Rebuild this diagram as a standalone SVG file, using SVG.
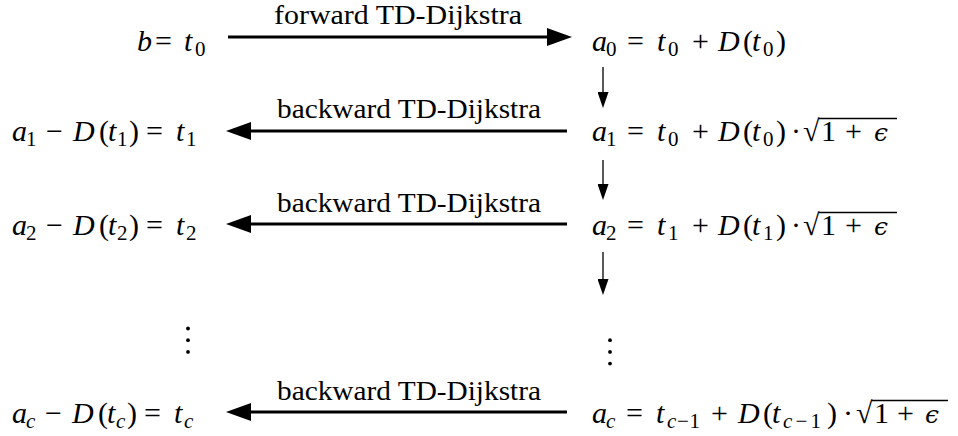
<svg xmlns="http://www.w3.org/2000/svg" width="958" height="436" viewBox="0 0 958 436">
<style>
.m{font-family:"Liberation Serif",serif;font-size:30px;fill:#000}
.i{font-style:italic}
.s{font-size:21px}
.e{font-family:"DejaVu Serif","Liberation Serif",serif;font-style:italic;font-size:25px}
.lbl{font-family:"Liberation Serif",serif;font-size:26.5px;fill:#000}
.big{stroke:#000;stroke-width:2.8;fill:none}
.small{stroke:#000;stroke-width:1.3;fill:none}
.vin{stroke:#000;stroke-width:1.3}
</style>
<defs>
<marker id="hb" markerUnits="userSpaceOnUse" markerWidth="25" markerHeight="19" viewBox="0 0 25 19" refX="8" refY="9.5" orient="auto">
<path d="M0,0.5 L25,9.5 L0,18.5 Z" fill="#000"/>
</marker>
<marker id="hs" markerUnits="userSpaceOnUse" markerWidth="16" markerHeight="11" viewBox="0 0 16 11" refX="4" refY="5.5" orient="auto">
<path d="M0,0 L16,5.5 L0,11 Z" fill="#000"/>
</marker>
</defs>
<g id="connectors">
<line class="big" x1="228" y1="37" x2="555" y2="37" marker-end="url(#hb)"/>
<line class="big" x1="567" y1="131" x2="243" y2="131" marker-end="url(#hb)"/>
<line class="big" x1="567" y1="224" x2="243" y2="224" marker-end="url(#hb)"/>
<line class="big" x1="567" y1="412" x2="243" y2="412" marker-end="url(#hb)"/>
<line class="small" x1="603" y1="67" x2="603" y2="96" marker-end="url(#hs)"/>
<line class="small" x1="603" y1="160" x2="603" y2="188" marker-end="url(#hs)"/>
<line class="small" x1="603" y1="252" x2="603" y2="283" marker-end="url(#hs)"/>
<text class="lbl" x="398" y="24" text-anchor="middle" textLength="248" lengthAdjust="spacingAndGlyphs">forward TD-Dijkstra</text>
<text class="lbl" x="409" y="118" text-anchor="middle" textLength="264" lengthAdjust="spacingAndGlyphs">backward TD-Dijkstra</text>
<text class="lbl" x="409" y="212" text-anchor="middle" textLength="264" lengthAdjust="spacingAndGlyphs">backward TD-Dijkstra</text>
<text class="lbl" x="409" y="400" text-anchor="middle" textLength="264" lengthAdjust="spacingAndGlyphs">backward TD-Dijkstra</text>
</g>
<g id="n-b">
<text class="m"><tspan class="i" x="137" y="51">b</tspan><tspan x="155" y="51">=</tspan><tspan class="i" x="184" y="51">t</tspan><tspan class="s" x="195" y="55.5">0</tspan></text>
</g>
<g id="n-a0">
<text class="m"><tspan class="i" x="592" y="51">a</tspan><tspan class="s" x="606" y="55.5">0</tspan><tspan x="627" y="51">=</tspan><tspan class="i" x="657" y="51">t</tspan><tspan class="s" x="668" y="55.5">0</tspan><tspan x="692" y="51">+</tspan><tspan class="i" x="718" y="51">D</tspan><tspan x="743" y="51">(</tspan><tspan class="i" x="752" y="51">t</tspan><tspan class="s" x="763" y="55.5">0</tspan><tspan x="776" y="51">)</tspan></text>
</g>
<g id="n-t1">
<text class="m"><tspan class="i" x="12" y="141">a</tspan><tspan class="s" x="26" y="145.5">1</tspan><tspan x="46" y="141">−</tspan><tspan class="i" x="73" y="141">D</tspan><tspan x="99" y="141">(</tspan><tspan class="i" x="108" y="141">t</tspan><tspan class="s" x="117" y="145.5">1</tspan><tspan x="129" y="141">)</tspan><tspan x="146" y="141">=</tspan><tspan class="i" x="176" y="141">t</tspan><tspan class="s" x="186" y="145.5">1</tspan></text>
</g>
<g id="n-a1">
<text class="m"><tspan class="i" x="592" y="141">a</tspan><tspan class="s" x="606" y="145.5">1</tspan><tspan x="627" y="141">=</tspan><tspan class="i" x="657" y="141">t</tspan><tspan class="s" x="668" y="145.5">0</tspan><tspan x="692" y="141">+</tspan><tspan class="i" x="718" y="141">D</tspan><tspan x="743" y="141">(</tspan><tspan class="i" x="752" y="141">t</tspan><tspan class="s" x="763" y="145.5">0</tspan><tspan x="776" y="141">)</tspan><tspan x="791" y="141">·</tspan><tspan x="803" y="141">√</tspan><tspan x="821" y="141">1</tspan><tspan x="845" y="141">+</tspan><tspan class="e" x="874" y="141">ϵ</tspan></text>
<line class="vin" x1="818.5" y1="118.5" x2="897" y2="118.5"/>
</g>
<g id="n-t2">
<text class="m"><tspan class="i" x="12" y="235">a</tspan><tspan class="s" x="26" y="239.5">2</tspan><tspan x="46" y="235">−</tspan><tspan class="i" x="73" y="235">D</tspan><tspan x="99" y="235">(</tspan><tspan class="i" x="108" y="235">t</tspan><tspan class="s" x="117" y="239.5">2</tspan><tspan x="129" y="235">)</tspan><tspan x="146" y="235">=</tspan><tspan class="i" x="176" y="235">t</tspan><tspan class="s" x="186" y="239.5">2</tspan></text>
</g>
<g id="n-a2">
<text class="m"><tspan class="i" x="592" y="235">a</tspan><tspan class="s" x="606" y="239.5">2</tspan><tspan x="627" y="235">=</tspan><tspan class="i" x="657" y="235">t</tspan><tspan class="s" x="668" y="239.5">1</tspan><tspan x="692" y="235">+</tspan><tspan class="i" x="718" y="235">D</tspan><tspan x="743" y="235">(</tspan><tspan class="i" x="752" y="235">t</tspan><tspan class="s" x="763" y="239.5">1</tspan><tspan x="776" y="235">)</tspan><tspan x="791" y="235">·</tspan><tspan x="803" y="235">√</tspan><tspan x="821" y="235">1</tspan><tspan x="845" y="235">+</tspan><tspan class="e" x="874" y="235">ϵ</tspan></text>
<line class="vin" x1="818.5" y1="212.5" x2="897" y2="212.5"/>
</g>
<g id="n-dots-left">
<circle cx="188" cy="328.5" r="1.9"/>
<circle cx="188" cy="340.2" r="1.9"/>
<circle cx="188" cy="351.9" r="1.9"/>
</g>
<g id="n-dots-right">
<circle cx="610" cy="340.2" r="1.9"/>
<circle cx="610" cy="351.9" r="1.9"/>
<circle cx="610" cy="363.6" r="1.9"/>
</g>
<g id="n-tc">
<text class="m"><tspan class="i" x="12" y="423">a</tspan><tspan class="s i" x="26" y="427.5">c</tspan><tspan x="45" y="423">−</tspan><tspan class="i" x="72" y="423">D</tspan><tspan x="98" y="423">(</tspan><tspan class="i" x="107" y="423">t</tspan><tspan class="s i" x="116" y="427.5">c</tspan><tspan x="127" y="423">)</tspan><tspan x="144" y="423">=</tspan><tspan class="i" x="174" y="423">t</tspan><tspan class="s i" x="184" y="427.5">c</tspan></text>
</g>
<g id="n-ac">
<text class="m"><tspan class="i" x="592" y="423">a</tspan><tspan class="s i" x="606" y="427.5">c</tspan><tspan x="626" y="423">=</tspan><tspan class="i" x="656" y="423">t</tspan><tspan class="s" x="667" y="427.5" textLength="33"><tspan class="i">c</tspan>−1</tspan><tspan x="711" y="423">+</tspan><tspan class="i" x="738" y="423">D</tspan><tspan x="763" y="423">(</tspan><tspan class="i" x="772" y="423">t</tspan><tspan class="s" x="783" y="427.5" textLength="38"><tspan class="i">c</tspan>−1</tspan><tspan x="827" y="423">)</tspan><tspan x="843" y="423">·</tspan><tspan x="856" y="423">√</tspan><tspan x="874" y="423">1</tspan><tspan x="897" y="423">+</tspan><tspan class="e" x="925" y="423">ϵ</tspan></text>
<line class="vin" x1="871.5" y1="400.5" x2="948" y2="400.5"/>
</g>
</svg>
